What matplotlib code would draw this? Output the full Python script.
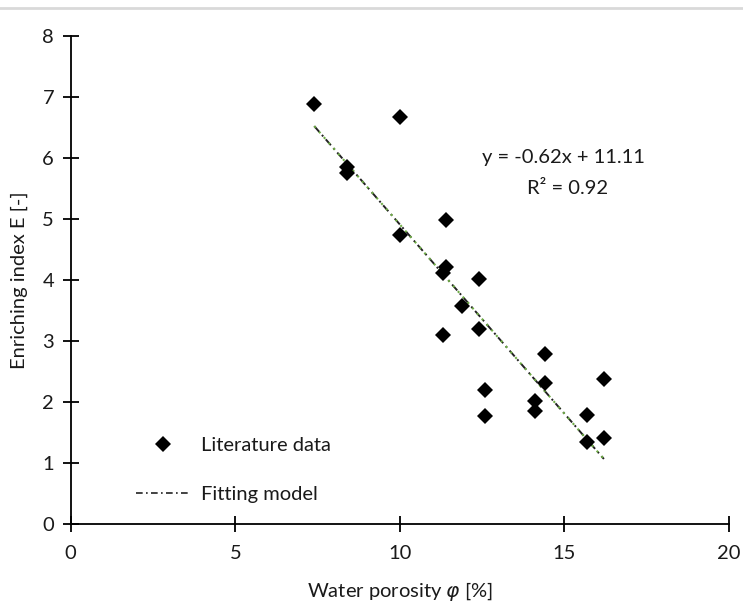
import matplotlib.pyplot as plt
from matplotlib.lines import Line2D

plt.rcParams['font.family'] = ['Lato', 'DejaVu Sans']

# literature data
porosity = [7.4, 10.0, 8.4, 8.4, 11.4, 10.0, 11.4, 11.3, 12.4, 11.9, 11.3,
            12.4, 14.4, 14.4, 16.2, 12.6, 12.6, 14.1, 14.1, 15.7, 15.7, 16.2]
enriching = [6.89, 6.68, 5.86, 5.75, 4.98, 4.73, 4.22, 4.11, 4.02, 3.58, 3.10,
             3.19, 2.79, 2.31, 2.38, 2.20, 1.77, 2.02, 1.86, 1.78, 1.35, 1.41]

# fitted line y = -0.62x + 11.11 between data limits
slope = -0.62
intercept = 11.11
fit_x = [7.4, 16.2]
fit_y = [slope * v + intercept for v in fit_x]

fs = 14.5
txt = '#1a1a1a'

fig = plt.figure(figsize=(7.43, 6.13), dpi=100)
ax = fig.add_axes([0.0952, 0.1452, 0.8859, 0.7961])

ax.plot(porosity, enriching, linestyle='none', marker='D', markersize=8.5,
        markeredgewidth=0, color='black', label='Literature data', zorder=3)
ax.plot(fit_x, fit_y, color='#222222', linewidth=1.4,
        dashes=(4, 2, 1, 2), zorder=2)
ax.plot(fit_x, fit_y, color='#70ad47', linewidth=1.5,
        dashes=(1, 2.5), zorder=2)

ax.set_xlim(0, 20)
ax.set_ylim(0, 8)
ax.set_xticks([0, 5, 10, 15, 20])
ax.set_yticks(range(0, 9))
for s in ['top', 'right']:
    ax.spines[s].set_visible(False)
for s in ['left', 'bottom']:
    ax.spines[s].set_linewidth(1.3)
ax.tick_params(direction='inout', length=12, width=1.3, labelsize=fs,
               labelcolor=txt, pad=9)
ax.tick_params(axis='y', pad=6)

ax.set_xlabel('Water porosity $\\varphi$ [%]', fontsize=fs, color=txt,
              labelpad=13)
ax.set_ylabel('Enriching index E [-]', fontsize=fs, color=txt,
              labelpad=10)

ax.text(12.5, 6.0, 'y = -0.62x + 11.11', fontsize=fs, color=txt,
        ha='left', va='center')
ax.text(15.1, 5.5, 'R² = 0.92', fontsize=fs, color=txt,
        ha='center', va='center')

handles = [Line2D([], [], linestyle='none', marker='D', markersize=8,
                  markeredgewidth=0, color='black'),
           Line2D([], [], color='#222222', linewidth=1.2, dashes=(4, 2, 1, 2))]
ax.legend(handles, ['Literature data', 'Fitting model'], loc='lower left',
          bbox_to_anchor=(0.072, 0.005), frameon=False, fontsize=fs,
          handlelength=2.7, handletextpad=0.5, labelspacing=1.6,
          labelcolor=txt)

# grey frame line at the top of the chart area
fig.add_artist(Line2D([0, 1], [0.987, 0.987], color='#d9d9d9', linewidth=2,
                      transform=fig.transFigure))

fig.savefig('out.png', dpi=100)
